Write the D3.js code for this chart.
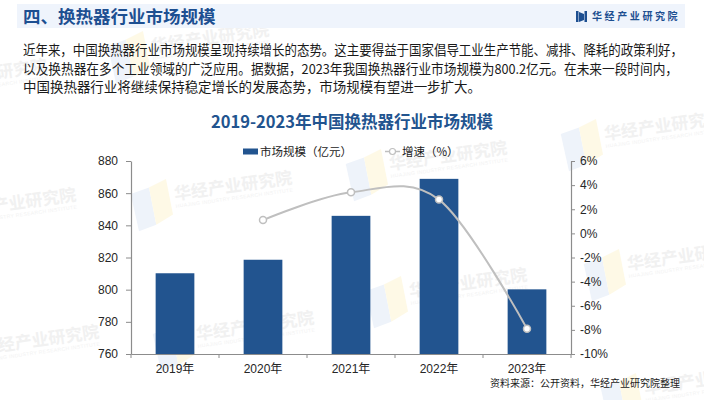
<!DOCTYPE html>
<html><head><meta charset="utf-8">
<script src="https://cdn.jsdelivr.net/npm/d3@7"></script>
<style>
html,body{margin:0;padding:0;background:#fff;}
svg{display:block;}
</style></head>
<body>
<script>
const categories = ["2019年","2020年","2021年","2022年","2023年"];
const marketSize = [810.2, 818.6, 845.9, 868.9, 800.2];
const growth = [null, 1.1, 3.4, 2.8, -7.9];
const leftTicks = [760, 780, 800, 820, 840, 860, 880];
const rightTicks = [-10, -8, -6, -4, -2, 0, 2, 4, 6];
const paragraph = [
  "近年来，中国换热器行业市场规模呈现持续增长的态势。这主要得益于国家倡导工业生产节能、减排、降耗的政策利好，",
  "以及换热器在多个工业领域的广泛应用。据数据，2023年我国换热器行业市场规模为800.2亿元。在未来一段时间内，",
  "中国换热器行业将继续保持稳定增长的发展态势，市场规模有望进一步扩大。"
];
const paragraphWidths = [660, 655, 458];
const watermarks = [[-41,217],[175,200],[390,170],[-18,354],[197,340],[410,297],[628,270],[605,140],[152,52],[-70,88],[645,394]];

const W = 704, H = 400;
const CJK = "'Noto Sans CJK SC','Noto Sans',sans-serif";
const NUM = "'Liberation Sans',Arial,'Noto Sans CJK SC',sans-serif";
const blue = "#22548f";

const svg = d3.select("body").append("svg").attr("width", W).attr("height", H);

// watermarks
const wm = svg.append("g");
watermarks.forEach(([x,y]) => {
  const g = wm.append("g").attr("transform", `translate(${x},${y}) rotate(-8)`);
  g.append("polygon").attr("points","-43,-12 -24,-16 -22,22 -40,26").attr("fill","#eef3fa");
  g.append("polygon").attr("points","-24,-16 -6,-22 -4,14 -22,22").attr("fill","#fef9e6");
  g.append("text").attr("x",0).attr("y",0).attr("font-family",CJK).attr("font-weight","bold")
    .attr("font-size",17).attr("fill","#f1f1f1").text("华经产业研究院");
  g.append("text").attr("x",0).attr("y",8).attr("font-family",NUM)
    .attr("font-size",5).attr("fill","#f2f2f2").attr("textLength",118)
    .text("HUAJING INDUSTRY RESEARCH INSTITUTE");
});

// header band
svg.append("rect").attr("x",17).attr("y",4).attr("width",668).attr("height",24).attr("fill","#eff4fc");
svg.append("text").attr("x",23).attr("y",22.5).attr("font-family",CJK).attr("font-weight","bold")
  .attr("font-size",17.5).attr("fill","#1d4f91").text("四、换热器行业市场规模");
// logo
const lg = svg.append("g");
lg.append("rect").attr("x",576).attr("y",11).attr("width",2.5).attr("height",11).attr("fill","#1d4f91");
lg.append("polygon").attr("points","579,12 584,14 584,20 579,22").attr("fill","#1d4f91");
lg.append("rect").attr("x",584.5).attr("y",11).attr("width",2.5).attr("height",11).attr("fill","#1d4f91");
lg.append("text").attr("x",592).attr("y",20).attr("font-family",CJK).attr("font-weight","bold")
  .attr("font-size",10).attr("letter-spacing",2.6).attr("fill","#1d4f91").text("华经产业研究院");

// paragraph
paragraph.forEach((t,i) => {
  svg.append("text").attr("x",23).attr("y",55+i*18.7).attr("font-family",CJK)
    .attr("font-size",13.5).attr("fill","#1a1a1a")
    .attr("textLength",paragraphWidths[i]).attr("lengthAdjust","spacingAndGlyphs").text(t);
});

// chart title
svg.append("text").attr("x",352).attr("y",128).attr("text-anchor","middle").attr("font-family",CJK)
  .attr("font-weight","bold").attr("font-size",16.5).attr("fill",blue).text("2019-2023年中国换热器行业市场规模");

// legend
svg.append("rect").attr("x",243).attr("y",148.5).attr("width",15).attr("height",6).attr("fill",blue);
svg.append("text").attr("x",260).attr("y",155.5).attr("font-family",CJK).attr("font-size",11.5)
  .attr("fill","#1a1a1a").text("市场规模（亿元）");
svg.append("line").attr("x1",385).attr("x2",400).attr("y1",151.5).attr("y2",151.5).attr("stroke","#bfbfbf").attr("stroke-width",1.5);
svg.append("circle").attr("cx",392.5).attr("cy",151.5).attr("r",3).attr("fill","#fff").attr("stroke","#bfbfbf").attr("stroke-width",1.2);
svg.append("text").attr("x",402).attr("y",155.5).attr("font-family",CJK).attr("font-size",11.5)
  .attr("fill","#1a1a1a").text("增速（%）");

// scales
const x = d3.scaleBand().domain(categories).range([131, 571]).padding(0);
const yL = d3.scaleLinear().domain([760, 880]).range([354, 161]);
const yR = d3.scaleLinear().domain([-10, 6]).range([354, 161]);
const axisColor = "#8c8c8c";

// bars
const bw = x.bandwidth() * 0.44;
svg.append("g").selectAll("rect").data(categories).join("rect")
  .attr("x", (d) => x(d) + (x.bandwidth() - bw) / 2)
  .attr("width", bw)
  .attr("y", (d,i) => yL(marketSize[i]))
  .attr("height", (d,i) => yL(760) - yL(marketSize[i]))
  .attr("fill", blue);

// axes
function styleAxis(g){
  g.selectAll("path.domain").attr("stroke",axisColor).attr("stroke-width",1.2);
  g.selectAll(".tick line").attr("stroke",axisColor).attr("stroke-width",1);
  g.selectAll(".tick text").attr("font-family",NUM).attr("font-size",12).attr("fill","#262626");
}
const gL = svg.append("g").attr("transform","translate(131,0)")
  .call(d3.axisLeft(yL).tickValues(leftTicks).tickSize(5).tickSizeOuter(0).tickPadding(8).tickFormat(d3.format("d")));
styleAxis(gL);
const gR = svg.append("g").attr("transform","translate(571,0)")
  .call(d3.axisRight(yR).tickValues(rightTicks).tickSize(4).tickSizeOuter(0).tickPadding(5).tickFormat(d => d + "%"));
styleAxis(gR);
const gB = svg.append("g").attr("transform","translate(0,354)")
  .call(d3.axisBottom(x).tickSize(0).tickSizeOuter(0).tickPadding(10));
styleAxis(gB);
// boundary ticks
const edges = categories.map(c => x(c)).concat([x.range()[1]]);
gB.selectAll("line.edge").data(edges).join("line").attr("class","edge")
  .attr("x1",d=>d).attr("x2",d=>d).attr("y1",0).attr("y2",4).attr("stroke",axisColor);

// growth line
const pts = categories.map((c,i) => ({x: x(c) + x.bandwidth()/2, v: growth[i]})).filter(d => d.v !== null);
const line = d3.line().x(d => d.x).y(d => yR(d.v)).curve(d3.curveCardinal.tension(0));
svg.append("path").datum(pts).attr("d", line).attr("fill","none").attr("stroke","#bfbfbf").attr("stroke-width",2);
svg.append("g").selectAll("circle").data(pts).join("circle")
  .attr("cx", d => d.x).attr("cy", d => yR(d.v)).attr("r", 3.5)
  .attr("fill","#fff").attr("stroke","#bfbfbf").attr("stroke-width",1.5);

// source
svg.append("text").attr("x",680).attr("y",387).attr("text-anchor","end").attr("font-family",CJK)
  .attr("font-size",10).attr("fill","#1a1a1a").text("资料来源：公开资料，华经产业研究院整理");
</script>
</body></html>
